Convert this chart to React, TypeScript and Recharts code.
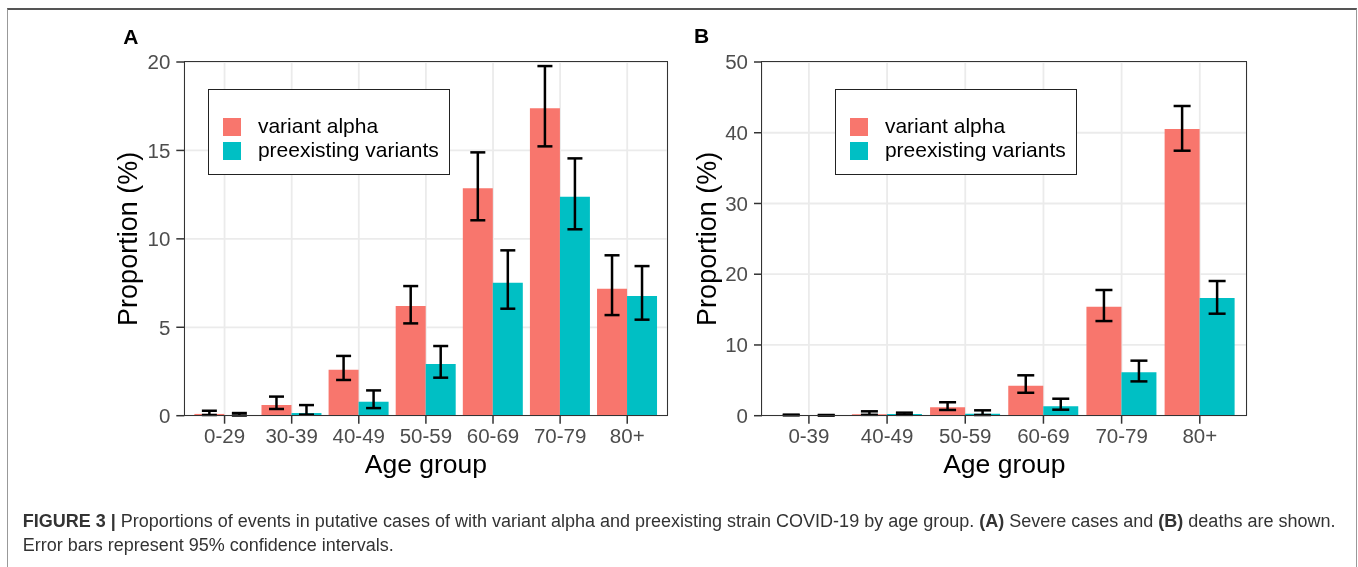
import React from 'react'
import { BarChart, Bar, XAxis, YAxis, CartesianGrid, Legend, ErrorBar } from 'recharts'

// Panel A: severe cases
const agesA = ['0-29', '30-39', '40-49', '50-59', '60-69', '70-79', '80+']
const alphaA = [0.1, 0.6, 2.6, 6.2, 12.86, 17.38, 7.18]
const alphaALo = [0.04, 0.38, 2.02, 5.22, 11.05, 15.23, 5.69]
const alphaAHi = [0.28, 1.08, 3.38, 7.33, 14.89, 19.77, 9.07]
const preA = [0.04, 0.15, 0.79, 2.92, 7.52, 12.38, 6.77]
const preALo = [0.01, 0.06, 0.43, 2.15, 6.05, 10.54, 5.43]
const preAHi = [0.15, 0.6, 1.43, 3.94, 9.35, 14.55, 8.46]
const ticksA = [0, 5, 10, 15, 20]

// Panel B: deaths
const agesB = ['0-39', '40-49', '50-59', '60-69', '70-79', '80+']
const alphaB = [0.1, 0.19, 1.19, 4.24, 15.41, 40.53]
const alphaBLo = [0.05, 0.12, 0.81, 3.24, 13.38, 37.46]
const alphaBHi = [0.15, 0.62, 1.9, 5.71, 17.77, 43.78]
const preB = [0.05, 0.24, 0.28, 1.35, 6.13, 16.64]
const preBLo = [0.02, 0.12, 0.1, 0.85, 4.85, 14.42]
const preBHi = [0.1, 0.43, 0.76, 2.4, 7.78, 19.04]
const ticksB = [0, 10, 20, 30, 40, 50]

const seriesNames = ['variant alpha', 'preexisting variants']

const FONT = '"Liberation Sans", Arial, sans-serif'
const RED = '#F8766D'
const TEAL = '#00BFC4'

function buildRows(
  ages: string[],
  alpha: number[],
  alphaLo: number[],
  alphaHi: number[],
  pre: number[],
  preLo: number[],
  preHi: number[]
) {
  return ages.map((age, i) => ({
    age,
    alpha: alpha[i],
    alphaErr: [alpha[i] - alphaLo[i], alphaHi[i] - alpha[i]],
    pre: pre[i],
    preErr: [pre[i] - preLo[i], preHi[i] - pre[i]],
  }))
}

interface PanelProps {
  data: ReturnType<typeof buildRows>
  ticks: number[]
  width: number
  yAxisWidth: number
  rightMargin: number
  titleOffset: number
  legendLeft: number
  capHalf: number
}

const PLOT_TOP = 54
const PLOT_H = 353.7
const CHART_H = 500

function Panel({ data, ticks, width, yAxisWidth, rightMargin, titleOffset, legendLeft, capHalf }: PanelProps) {
  const plotW = width - yAxisWidth - rightMargin
  const pad = (plotW / (data.length + 0.2)) * 0.1
  return (
    <div style={{ position: 'relative', width, height: CHART_H }}>
      <BarChart
        width={width}
        height={CHART_H}
        data={data}
        margin={{ top: PLOT_TOP, right: rightMargin, bottom: 0, left: 0 }}
        barCategoryGap="5%"
        barGap={0}
      >
        <CartesianGrid stroke="#EBEBEB" strokeWidth={1.8} />
        <XAxis
          dataKey="age"
          height={CHART_H - PLOT_TOP - PLOT_H}
          padding={{ left: pad, right: pad }}
          tickSize={8}
          tickMargin={5}
          axisLine={false}
          tickLine={{ stroke: '#333', strokeWidth: 1.5 }}
          tick={{ fill: '#4D4D4D', fontSize: 20.5, fontFamily: FONT }}
          label={{ value: 'Age group', position: 'insideBottom', offset: 35, fill: '#000', fontSize: 26.5, fontFamily: FONT }}
        />
        <YAxis
          width={yAxisWidth}
          domain={[0, ticks[ticks.length - 1]]}
          ticks={ticks}
          tickSize={8}
          tickMargin={6}
          axisLine={false}
          tickLine={{ stroke: '#333', strokeWidth: 1.5 }}
          tick={{ fill: '#4D4D4D', fontSize: 20.5, fontFamily: FONT }}
          label={{
            value: 'Proportion (%)',
            angle: -90,
            position: 'insideLeft',
            offset: titleOffset,
            fill: '#000',
            fontSize: 27,
            fontFamily: FONT,
            style: { textAnchor: 'middle' },
          }}
        />
        <Legend
          layout="vertical"
          align="center"
          verticalAlign="middle"
          iconType="square"
          iconSize={18}
          itemSorter={(item: any) => seriesNames.indexOf(item.value)}
          formatter={(v: string) => <span style={{ color: '#000', paddingLeft: 12.6 }}>{v}</span>}
          wrapperStyle={{
            left: legendLeft,
            top: 81.3,
            width: 242,
            height: 86,
            boxSizing: 'border-box',
            border: '1.5px solid #222',
            background: '#fff',
            padding: '23.3px 0 0 14px',
            fontSize: 21,
            lineHeight: '24px',
            fontFamily: FONT,
          }}
        />
        <Bar dataKey="alpha" name={seriesNames[0]} fill={RED} isAnimationActive={false}>
          <ErrorBar dataKey="alphaErr" direction="y" width={capHalf} stroke="#000" strokeWidth={2.5} isAnimationActive={false} />
        </Bar>
        <Bar dataKey="pre" name={seriesNames[1]} fill={TEAL} isAnimationActive={false}>
          <ErrorBar dataKey="preErr" direction="y" width={capHalf} stroke="#000" strokeWidth={2.5} isAnimationActive={false} />
        </Bar>
      </BarChart>
      <div
        style={{
          position: 'absolute',
          left: yAxisWidth - 0.75,
          top: PLOT_TOP - 0.75,
          width: plotW + 1.5,
          height: PLOT_H + 1.5,
          boxSizing: 'border-box',
          border: '1.5px solid #333',
          pointerEvents: 'none',
        }}
      />
    </div>
  )
}

export default function App() {
  const dataA = buildRows(agesA, alphaA, alphaALo, alphaAHi, preA, preALo, preAHi)
  const dataB = buildRows(agesB, alphaB, alphaBLo, alphaBHi, preB, preBLo, preBHi)
  const panelLabel: React.CSSProperties = {
    position: 'absolute',
    fontFamily: FONT,
    fontWeight: 'bold',
    fontSize: 21,
    lineHeight: '21px',
    color: '#000',
  }
  return (
    <div style={{ position: 'relative', width: 1342, height: 551, overflow: 'hidden', fontFamily: FONT }}>
      <div
        style={{
          position: 'fixed',
          left: 7,
          top: 8,
          width: 1350,
          height: 559,
          boxSizing: 'border-box',
          borderTop: '2px solid #555',
          borderLeft: '1.5px solid #999',
          borderRight: '1.5px solid #999',
          pointerEvents: 'none',
        }}
      />
      <div style={{ position: 'absolute', left: 0, top: 0 }}>
        <Panel data={dataA} ticks={ticksA} width={680} yAxisWidth={176.3} rightMargin={20.5} titleOffset={119.7} legendLeft={200.3} capHalf={7.5} />
      </div>
      <div style={{ position: 'absolute', left: 680, top: 0 }}>
        <Panel data={dataB} ticks={ticksB} width={580} yAxisWidth={74} rightMargin={21.3} titleOffset={18.6} legendLeft={147.3} capHalf={8.5} />
      </div>
      <div style={{ ...panelLabel, left: 115.3, top: 17.5 }}>A</div>
      <div style={{ ...panelLabel, left: 686, top: 17 }}>B</div>
      <div
        style={{
          position: 'absolute',
          left: 14.7,
          top: 501.9,
          fontSize: 18,
          lineHeight: '23.7px',
          color: '#333',
          whiteSpace: 'nowrap',
          letterSpacing: 0,
        }}
      >
        <b>FIGURE 3 |</b> Proportions of events in putative cases of with variant alpha and preexisting strain COVID-19 by age group.{' '}
        <b>(A)</b> Severe cases and <b>(B)</b> deaths are shown.
        <br />
        Error bars represent 95% confidence intervals.
      </div>
    </div>
  )
}
